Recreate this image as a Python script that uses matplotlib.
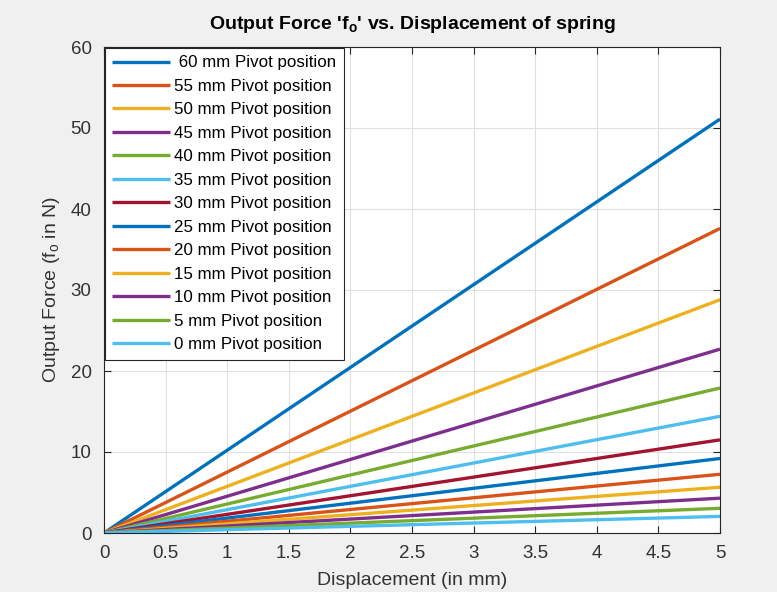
import matplotlib
matplotlib.use("Agg")
import matplotlib.pyplot as plt

plt.rcParams["font.family"] = ["Liberation Sans", "DejaVu Sans"]
plt.rcParams["mathtext.fontset"] = "custom"
plt.rcParams["mathtext.rm"] = "Liberation Sans"
plt.rcParams["mathtext.it"] = "Liberation Sans"
plt.rcParams["mathtext.bf"] = "Liberation Sans:bold"

# Spring displacement range (mm)
displacement = [0.0, 5.0]

# Pivot positions and output force reached at full displacement (N)
pivot_labels = [
    " 60 mm Pivot position", "55 mm Pivot position", "50 mm Pivot position",
    "45 mm Pivot position", "40 mm Pivot position", "35 mm Pivot position",
    "30 mm Pivot position", "25 mm Pivot position", "20 mm Pivot position",
    "15 mm Pivot position", "10 mm Pivot position", "5 mm Pivot position",
    "0 mm Pivot position",
]
force_at_start = [0.0] * 13
force_at_end = [51.1, 37.6, 28.8, 22.7, 17.9, 14.4, 11.5, 9.2, 7.25, 5.65, 4.3, 3.05, 2.05]

x_ticks = [0, 0.5, 1, 1.5, 2, 2.5, 3, 3.5, 4, 4.5, 5]
y_ticks = [0, 10, 20, 30, 40, 50, 60]

colors = ["#0072BD", "#D95319", "#EDB120", "#7E2F8E", "#77AC30", "#4DBEEE", "#A2142F"]

fig = plt.figure(figsize=(7.77, 5.92), dpi=100, facecolor="#f0f0f0")
ax = fig.add_axes([104 / 777, 1 - 533 / 592, 616 / 777, 486 / 592])

for i, label in enumerate(pivot_labels):
    ax.plot(displacement, [force_at_start[i], force_at_end[i]],
            color=colors[i % len(colors)], lw=2.4, label=label, solid_capstyle="butt")

ax.set_xlim(0, 5)
ax.set_ylim(0, 60)
ax.set_xticks(x_ticks)
ax.set_xticklabels([f"{t:g}" for t in x_ticks])
ax.set_yticks(y_ticks)
ax.grid(True, color="#e0e0e0", lw=0.8)
ax.set_axisbelow(True)

axis_color = "#262626"
for s in ax.spines.values():
    s.set_color(axis_color)
    s.set_linewidth(0.8)
ax.tick_params(direction="in", length=5, width=0.8, colors=axis_color,
               labelcolor="#333333", labelsize=13.5, top=True, right=True,
               labeltop=False, labelright=False)
ax.tick_params(axis="x", pad=9)
ax.tick_params(axis="y", pad=9)

ax.set_xlabel("Displacement (in mm)", fontsize=14, color="#333333", labelpad=7)
ax.set_ylabel("Output Force (f$_\\mathrm{o}$ in N)", fontsize=14, color="#333333", labelpad=6)
ax.set_title("Output Force 'f$_\\mathbf{o}$' vs. Displacement of spring",
             fontsize=14, fontweight="bold", color="black", pad=13)

leg = ax.legend(loc="upper left", fontsize=12.2, frameon=True, fancybox=False,
                edgecolor="#262626", framealpha=1, borderaxespad=0.05,
                handlelength=3.4, handletextpad=0.25, labelspacing=0.5,
                borderpad=0.45)
leg.get_frame().set_linewidth(0.8)

fig.savefig("out.png", dpi=100, facecolor=fig.get_facecolor())
